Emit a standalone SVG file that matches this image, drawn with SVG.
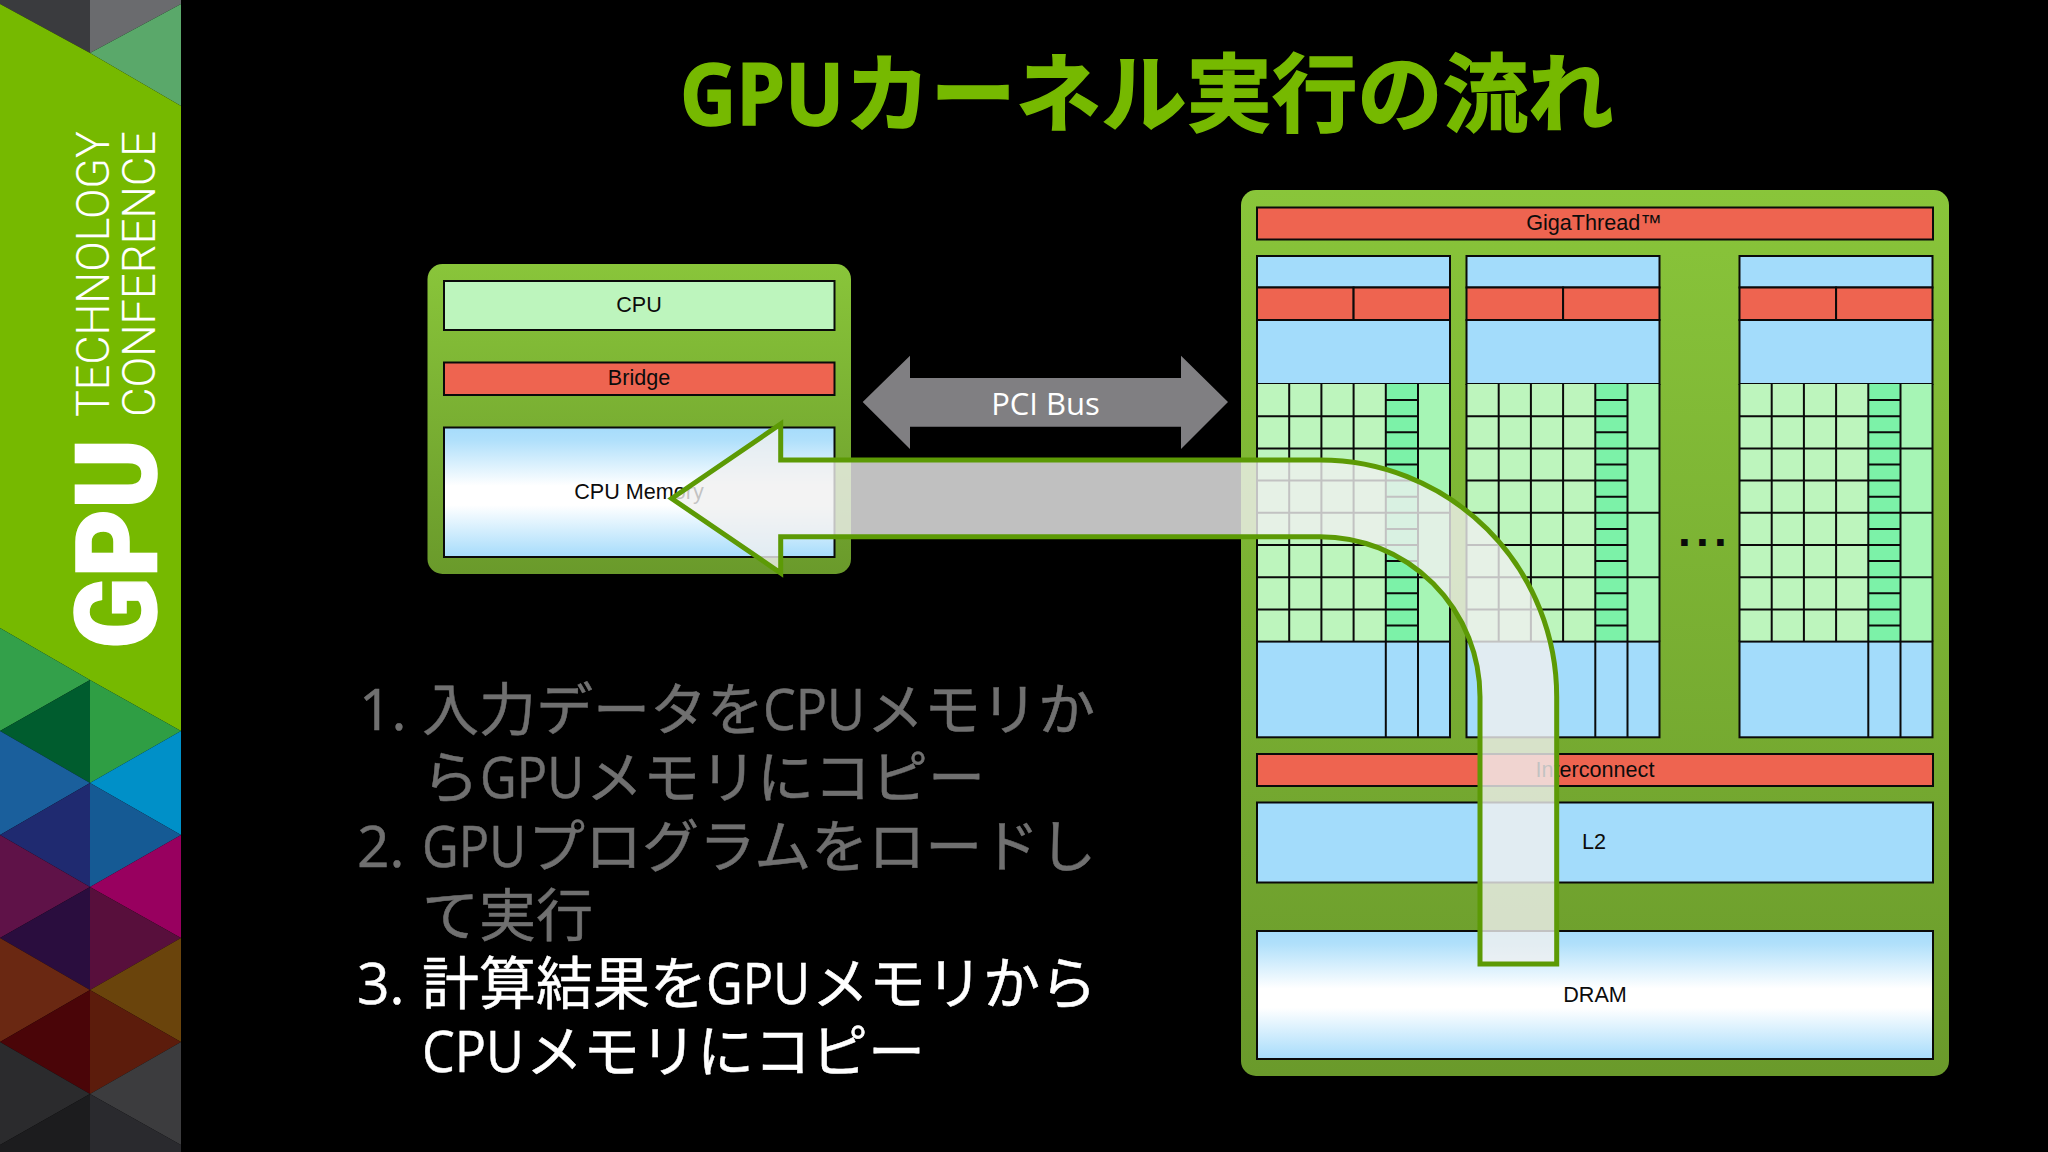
<svg xmlns="http://www.w3.org/2000/svg" width="2048" height="1152" viewBox="0 0 2048 1152">
<style>
.box{stroke:#0a0a0a;stroke-width:2}
.blue{fill:#a3dcfb}
.red{fill:#ee6450}
.lbl{font-family:"Liberation Sans",Arial,sans-serif;font-size:21.6px;fill:#0c0c0c;text-anchor:middle}
.li{font-family:"Open Sans","Noto Sans CJK JP",sans-serif;font-size:57px;stroke-width:.5px}
.cjk{font-family:"Noto Sans CJK JP",sans-serif}
.g{fill:#707070;stroke:#707070}
.w{fill:#fff;stroke:#fff}
.side{font-family:Roboto,"Open Sans",sans-serif;fill:#fff}
</style>
<defs>
<linearGradient id="boxg" x1="0" y1="0" x2="0" y2="1"><stop offset="0" stop-color="#89c53a"/><stop offset="1" stop-color="#6a9a2b"/></linearGradient>
<linearGradient id="mem" x1="0" y1="0" x2="0" y2="1"><stop offset="0" stop-color="#a6dcfb"/><stop offset=".1" stop-color="#b0e0fb"/><stop offset=".45" stop-color="#fff"/><stop offset=".6" stop-color="#fff"/><stop offset="1" stop-color="#a6dcfb"/></linearGradient>
<g id="column">
<rect class="box blue" x="0" y="256" width="193" height="31.5"/>
<rect class="box red" x="0" y="287.5" width="96.6" height="32.5"/>
<rect class="box red" x="96.6" y="287.5" width="96.4" height="32.5"/>
<rect class="box blue" x="0" y="320" width="193" height="64"/>
<rect x="0" y="384" width="128.8" height="257.6" fill="#bdf5bd"/>
<rect x="128.8" y="384" width="32.2" height="257.6" fill="#7cf2a8"/>
<rect x="161" y="384" width="32" height="257.6" fill="#a6f5b5"/>
<path fill="none" stroke="#0a0a0a" stroke-width="2" d="M0 416.2H129M0 448.4H193M0 480.6H129M0 512.8H193M0 545H129M0 577.2H193M0 609.4H129M32.2 384V641.6M64.4 384V641.6M96.6 384V641.6M128.8 384V641.6M161 384V641.6M129 400.1H161M129 416.2H161M129 432.3H161M129 464.5H161M129 480.6H161M129 496.7H161M129 528.9H161M129 545H161M129 561.1H161M129 593.3H161M129 609.4H161M129 625.5H161M0 384V641.6M193 384V641.6"/>
<rect class="box blue" x="0" y="641.6" width="193" height="95.7"/>
<path fill="none" stroke="#0a0a0a" stroke-width="2" d="M128.8 641.6V737.3M161 641.6V737.3"/>
</g>
</defs>
<rect width="2048" height="1152" fill="#000"/>
<g id="sidebar">
<polygon points="0,0 90,0 90,53 0,4" fill="#3a3b3e"/>
<polygon points="90,0 181,0 181,4 90,53" fill="#6a6b6e"/>
<polygon points="90,53 181,4 181,106" fill="#5aa86a"/>
<polygon points="0,4 90,53 181,106 181,731 90,680 0,628" fill="#76b900"/>
<polygon points="0,628 90,680 0,731" fill="#33a04a"/>
<polygon points="0,731 90,680 90,783" fill="#005c2e"/>
<polygon points="90,680 181,731 90,783" fill="#2f9e44"/>
<polygon points="0,731 90,783 0,835" fill="#1a5f9c"/>
<polygon points="90,783 181,731 181,835" fill="#0090c8"/>
<polygon points="0,835 90,783 90,887" fill="#1f2a70"/>
<polygon points="90,783 181,835 90,887" fill="#155a94"/>
<polygon points="0,835 90,887 0,938" fill="#5f1248"/>
<polygon points="90,887 181,835 181,938" fill="#98005f"/>
<polygon points="0,938 90,887 90,990" fill="#2a0d3e"/>
<polygon points="90,887 181,938 90,990" fill="#580f3c"/>
<polygon points="0,938 90,990 0,1042" fill="#6a2812"/>
<polygon points="90,990 181,938 181,1042" fill="#6a440c"/>
<polygon points="0,1042 90,990 90,1094" fill="#4a0508"/>
<polygon points="90,990 181,1042 90,1094" fill="#5c1c0c"/>
<polygon points="0,1042 90,1094 0,1145" fill="#2b2b2d"/>
<polygon points="90,1094 181,1042 181,1145" fill="#3c3c3e"/>
<polygon points="0,1145 90,1094 90,1152 0,1152" fill="#1c1c1e"/>
<polygon points="90,1094 181,1145 181,1152 90,1152" fill="#2a2a2e"/>
<text class="side" transform="translate(156,649) rotate(-90)" font-size="113" font-weight="900" stroke="#fff" stroke-width="1.5" textLength="210" lengthAdjust="spacingAndGlyphs">GPU</text>
<text class="side" transform="translate(109,417) rotate(-90)" font-size="47" font-weight="300" textLength="286" lengthAdjust="spacingAndGlyphs">TECHNOLOGY</text>
<text class="side" transform="translate(155,417) rotate(-90)" font-size="47" font-weight="300" textLength="286" lengthAdjust="spacingAndGlyphs">CONFERENCE</text>
</g>
<text id="title" y="125" font-size="85.400" font-weight="700" fill="#76b900" stroke="#76b900" stroke-width="1.5" font-family="'Open Sans','Noto Sans CJK JP',sans-serif"><tspan x="680" textLength="164" lengthAdjust="spacingAndGlyphs">GPU</tspan><tspan x="845" class="cjk">カーネル実行の流れ</tspan></text>
<g id="steps">
<text class="li g" y="730"><tspan x="359">1.</tspan><tspan x="422" class="cjk">入力データを</tspan><tspan x="763" textLength="102" lengthAdjust="spacingAndGlyphs">CPU</tspan><tspan x="867" class="cjk">メモリか</tspan></text>
<text class="li g" y="798"><tspan x="422" class="cjk">ら</tspan><tspan x="480" textLength="104" lengthAdjust="spacingAndGlyphs">GPU</tspan><tspan x="586" class="cjk">メモリにコピー</tspan></text>
<text class="li g" y="867"><tspan x="357">2.</tspan><tspan x="422" textLength="104" lengthAdjust="spacingAndGlyphs">GPU</tspan><tspan x="528" class="cjk">プログラムをロードし</tspan></text>
<text class="li g" y="936"><tspan x="422" class="cjk">て実行</tspan></text>
<text class="li w" y="1004"><tspan x="357">3.</tspan><tspan x="422" class="cjk">計算結果を</tspan><tspan x="706" textLength="104" lengthAdjust="spacingAndGlyphs">GPU</tspan><tspan x="812" class="cjk">メモリから</tspan></text>
<text class="li w" y="1072"><tspan x="422" textLength="102" lengthAdjust="spacingAndGlyphs">CPU</tspan><tspan x="526" class="cjk">メモリにコピー</tspan></text>
</g>
<g id="cpu-box">
<rect x="427.500" y="264" width="423.500" height="310" rx="15" fill="url(#boxg)"/>
<rect class="box" x="444" y="281" width="390.500" height="49" fill="#bdf5bd"/>
<text class="lbl" x="639" y="312">CPU</text>
<rect class="box red" x="444" y="362.500" width="390.500" height="32.500"/>
<text class="lbl" x="639" y="385">Bridge</text>
<rect class="box" x="444" y="427.500" width="390.500" height="129.500" fill="url(#mem)"/>
<text class="lbl" x="639" y="499">CPU Memory</text>
</g>
<g id="gpu-box">
<rect x="1241" y="190" width="708" height="886" rx="15" fill="url(#boxg)"/>
<rect class="box red" x="1257" y="207.500" width="676" height="32"/>
<text class="lbl" x="1594" y="230">GigaThread™</text>
<use href="#column" x="1257"/>
<use href="#column" x="1466.500"/>
<use href="#column" x="1739.500"/>
<text x="1678" y="546" font-family="'Liberation Sans',sans-serif" font-weight="700" font-size="46" letter-spacing="5.200" fill="#0a0a0a">...</text>
<rect class="box red" x="1257" y="754" width="676" height="32"/>
<text class="lbl" x="1595" y="777">Interconnect</text>
<rect class="box blue" x="1257" y="802.500" width="676" height="80"/>
<text class="lbl" x="1594" y="849">L2</text>
<rect class="box" x="1257" y="931" width="676" height="128" fill="url(#mem)"/>
<text class="lbl" x="1595" y="1002">DRAM</text>
</g>
<g id="connectors">
<path id="pci-bus" d="M862.700 402L910 355.700V378H1181V355.700L1228 402L1181 449V426.700H910V449Z" fill="#807f82"/>
<text x="1045.500" y="415" font-family="'Open Sans',sans-serif" font-size="31" fill="#fff" text-anchor="middle">PCI Bus</text>
<path id="flow" d="M671.700 498.500L780.700 424V460H1320A236.700 236.700 0 0 1 1556.700 696.700V964H1480V696.700A160 160 0 0 0 1320 536.700H780.700V573Z" fill="#f0f0f0" fill-opacity=".8" stroke="#5c9a05" stroke-width="5"/>
</g>
</svg>
